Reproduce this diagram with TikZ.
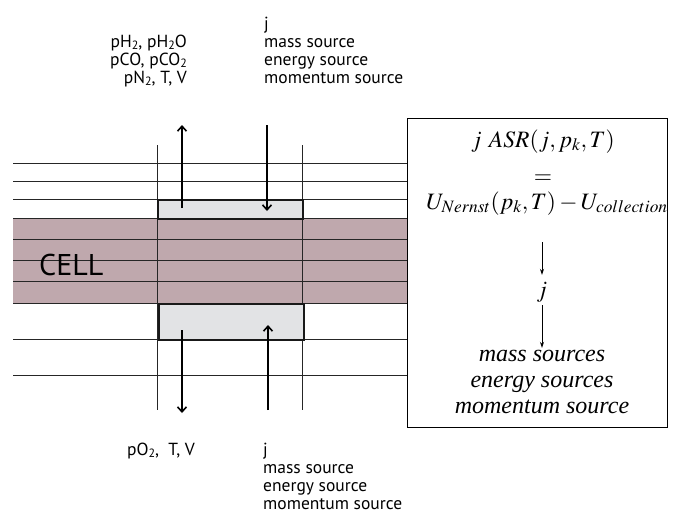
\documentclass[tikz,border=0pt]{standalone}
\usepackage{mathptmx}
\usepackage{fontspec}
\setsansfont{PT Sans}
\newfontfamily\tmsfont{Liberation Serif}
\usetikzlibrary{arrows.meta,positioning}
\definecolor{cellfill}{RGB}{191,168,173}
\definecolor{layergray}{RGB}{226,227,229}
\newcommand{\gassub}[1]{\raisebox{-2pt}{\fontsize{12}{12}\selectfont #1}}

\begin{document}
\begin{tikzpicture}[x=1pt, y=-1pt,
  gridline/.style={draw=black!85, line width=0.7pt},
  layerbox/.style={draw=black!90, line width=1.6pt, fill=layergray,
                   inner sep=0pt, anchor=north west},
  flux/.style={draw, line width=1.6pt,
               -{Straight Barb[length=5pt, width=9pt, line width=1.6pt]}},
  eqarrow/.style={draw, line width=0.8pt, -{Stealth[length=6pt, width=4pt]}},
  sidetext/.style={font=\sffamily\fontsize{17.5}{18}\selectfont, inner sep=0pt,
                   text height=12.5pt, text depth=4pt},
  eqtext/.style={font=\fontsize{23.5}{26}\selectfont, inner sep=0pt, anchor=base},
  srctext/.style={font=\tmsfont\itshape\fontsize{24}{26}\selectfont,
                  inner sep=0pt, anchor=base, text height=15pt, text depth=5pt},
]
  \useasboundingbox (0,0) rectangle (676,531);

  % Cell band
  \fill[cellfill] (13,218) rectangle (407,303);

  % Horizontal layers
  \foreach \yy in {163,181,199,218,239,260,281,303,339,375}
    \draw[gridline] (13,\yy) -- (407,\yy);

  % Column boundaries
  \foreach \xx in {157,302}
    \draw[gridline] (\xx,145) -- (\xx,410);

  % Electrode layers
  \node[layerbox, minimum width=145pt, minimum height=19pt] (anode) at (157,199) {};
  \node[layerbox, minimum width=145pt, minimum height=36pt] (cathode) at (158,303) {};

  \node[font=\sffamily\fontsize{30}{30}\selectfont, inner sep=0pt, anchor=west]
       (cell) at (39,265) {CELL};

  % Free ends of the fluxes
  \coordinate (upout) at (182,125);
  \coordinate (upin) at (267,125);
  \coordinate (downout) at (182,413);
  \coordinate (downin) at (268,410);

  % Fluxes through the layers
  \draw[flux] (182,208) -- (upout);
  \draw[flux] (upin) -- (267,211);
  \draw[flux] (182,330) -- (downout);
  \draw[flux] (downin) -- (268,325);

  % Top labels
  \node[sidetext, anchor=base east] (gasA) at (187,47) {pH\gassub{2}, pH\gassub{2}O};
  \node[sidetext, anchor=base east] (gasB) at (187,65) {pCO, pCO\gassub{2}};
  \node[sidetext, anchor=base east] (gasC) at (187,83) {pN\gassub{2}, T, V};
  \node[sidetext, anchor=base west] (srcj) at (264,29) {j};
  \node[sidetext, anchor=base west] (srcA) at (264,47) {mass source};
  \node[sidetext, anchor=base west] (srcB) at (264,65) {energy source};
  \node[sidetext, anchor=base west] (srcC) at (264,83) {momentum source};

  % Bottom labels
  \node[sidetext, anchor=base west] (gasO) at (127,455) {pO\gassub{2},\ \ T, V};
  \node[sidetext, anchor=base west] (botj) at (263,455) {j};
  \node[sidetext, anchor=base west] (botA) at (263,473) {mass source};
  \node[sidetext, anchor=base west] (botB) at (263,491) {energy source};
  \node[sidetext, anchor=base west] (botC) at (263,509) {momentum source};

  % Equation box
  \node[draw, line width=0.8pt, minimum width=260pt, minimum height=309pt,
        inner sep=0pt, anchor=north west] (eqbox) at (407,118) {};
  \node[eqtext] (asr) at (543,147) {$j\ ASR(j,p_k,T)$};
  \node[eqtext] (eq) at (543,183) {$=$};
  \node[eqtext] (nernst) at (547,209) {$U_{Nernst}(p_k,T)-U_{collection}$};
  \node[eqtext, text height=22pt, text depth=8pt] (jcur) at (542,297) {$j$};
  \node[srctext] (srcmass) at (542,361) {mass sources};
  \node[srctext] (srcenergy) at (542,387) {energy sources};
  \node[srctext] (srcmom) at (542,413) {momentum source};
  \coordinate (jin) at (542,242);
  \draw[eqarrow] (jin) -- (jcur.north);
  \draw[eqarrow] (jcur.south) -- ([yshift=-2pt]srcmass.north);
\end{tikzpicture}
\end{document}
